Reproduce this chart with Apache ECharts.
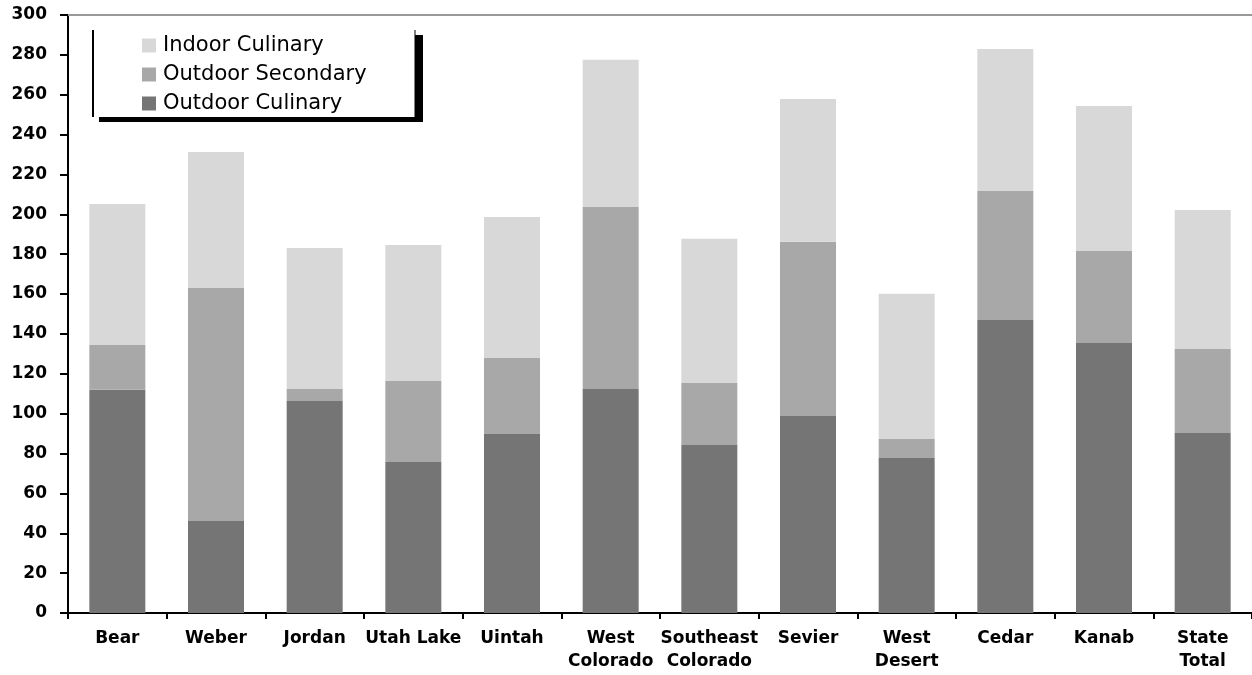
<!DOCTYPE html>
<html>
<head>
<meta charset="utf-8">
<script src="https://cdn.jsdelivr.net/npm/echarts@6/dist/echarts.min.js"></script>
<style>
html,body{margin:0;padding:0;background:#fff;}
#chart{width:1252px;height:675px;}
</style>
</head>
<body>
<div id="chart"></div>
<script>
const categories = ['Bear','Weber','Jordan','Utah Lake','Uintah','West\nColorado','Southeast\nColorado','Sevier','West\nDesert','Cedar','Kanab','State\nTotal'];
const outdoorCulinary = [112, 46.2, 106.4, 75.8, 89.8, 112.4, 84.3, 98.8, 77.8, 147, 135.5, 90.3];
const outdoorSecondary = [22.5, 116.9, 6, 40.6, 38.1, 91.3, 31.1, 87.4, 9.5, 64.7, 46.1, 42.2];
const indoorCulinary = [70.7, 68.2, 70.7, 68.2, 70.8, 73.8, 72.3, 71.7, 72.8, 71.3, 72.8, 69.7];
const legendOrder = ['Indoor Culinary', 'Outdoor Secondary', 'Outdoor Culinary'];
const yMin = 0, yMax = 300, yStep = 20;

const FONT = '"DejaVu Sans", Verdana, sans-serif';
const chart = echarts.init(document.getElementById('chart'));
chart.setOption({
  animation: false,
  backgroundColor: '#fff',
  grid: {left: 68, right: 0, top: 15, bottom: 62, containLabel: false},
  graphic: [
    {type: 'rect', z: 5, shape: {x: 99, y: 35, width: 324, height: 87}, style: {fill: '#000'}},
    {type: 'rect', z: 6, shape: {x: 92, y: 30, width: 323, height: 87}, style: {fill: '#fff', stroke: null}},
    {type: 'line', z: 7, shape: {x1: 93, y1: 30, x2: 93, y2: 117}, style: {stroke: '#000', lineWidth: 2}},
    {type: 'line', z: 7, shape: {x1: 415, y1: 30, x2: 415, y2: 117}, style: {stroke: '#000', lineWidth: 1}}
  ],
  legend: {
    orient: 'vertical',
    left: 142, top: 35,
    z: 10,
    data: legendOrder,
    padding: 0,
    itemWidth: 14, itemHeight: 14, itemGap: 8,
    icon: 'rect',
    textStyle: {fontFamily: FONT, fontSize: 21, color: '#000', lineHeight: 20, padding: [0, 0, 0, 2]}
  },
  xAxis: [{
    type: 'category',
    data: categories,
    axisLine: {lineStyle: {color: '#000', width: 2}},
    axisTick: {show: true, alignWithLabel: false, length: 6, lineStyle: {color: '#000', width: 2}},
    axisLabel: {interval: 0, fontFamily: FONT, fontWeight: 'bold', fontSize: 17, color: '#000', margin: 14, lineHeight: 23}
  }, {
    type: 'category',
    position: 'top',
    data: categories,
    axisLine: {show: true, lineStyle: {color: '#999', width: 2}},
    axisTick: {show: false},
    axisLabel: {show: false}
  }],
  yAxis: {
    type: 'value',
    min: yMin, max: yMax, interval: yStep,
    axisLine: {show: true, lineStyle: {color: '#000', width: 2}},
    axisTick: {show: true, inside: false, length: 8, lineStyle: {color: '#000', width: 2}},
    splitLine: {show: false},
    axisLabel: {fontFamily: FONT, fontWeight: 'bold', fontSize: 17, color: '#000', margin: 21}
  },
  series: [
    {name: 'Outdoor Culinary', type: 'bar', stack: 'a', data: outdoorCulinary, barWidth: 56, itemStyle: {color: '#757575'}},
    {name: 'Outdoor Secondary', type: 'bar', stack: 'a', data: outdoorSecondary, barWidth: 56, itemStyle: {color: '#a8a8a8'}},
    {name: 'Indoor Culinary', type: 'bar', stack: 'a', data: indoorCulinary, barWidth: 56, itemStyle: {color: '#d8d8d8'}}
  ]
});
</script>
</body>
</html>
